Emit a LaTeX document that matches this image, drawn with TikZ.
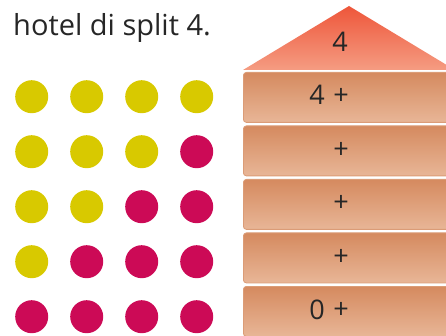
\documentclass[tikz,border=0pt]{standalone}
\usepackage{fontspec}
\setmainfont{Open Sans}
\definecolor{beadyellow}{HTML}{D8C900}
\definecolor{beadred}{HTML}{CC0A56}
\definecolor{rooftop}{HTML}{EE563A}
\definecolor{roofbottom}{HTML}{F59C82}
\definecolor{floortop}{HTML}{D58A5F}
\definecolor{floorbottom}{HTML}{E8B697}
\tikzset{
  bead/.style={circle, minimum size=33pt, inner sep=0pt},
  floorbox/.style={rounded corners=3pt, top color=floortop, bottom color=floorbottom,
    draw=floortop!85!white, line width=0.8pt, minimum width=230pt, minimum height=50pt,
    anchor=north west, inner sep=0pt},
  lbl/.style={font=\fontsize{27}{30}\selectfont, text=black!85, inner sep=0pt}
}
\begin{document}
\begin{tikzpicture}[x=1pt, y=-1pt]
    \useasboundingbox (0,0) rectangle (446,336);
    \clip (0,0) rectangle (446,336);
    % title
    \node[lbl, font=\fontsize{29}{32}\selectfont, anchor=base west] (title) at (13,36) {hotel di split 4.};
    % beads: red where col+row >= 4
    \foreach \r in {0,...,4} {
      \foreach \c in {0,...,3} {
        \pgfmathtruncatemacro{\isred}{(\c+\r)>=4}
        \ifnum\isred=1
          \node[bead, fill=beadred] (bead-\r-\c) at ({31.7+55*\c},{96.7+55*\r}) {};
        \else
          \node[bead, fill=beadyellow] (bead-\r-\c) at ({31.7+55*\c},{96.7+55*\r}) {};
        \fi
      }
    }
    % roof
    \shade[top color=rooftop, middle color=rooftop!85!roofbottom, bottom color=roofbottom]
      (243,70) -- (349,6) -- (455,70) -- cycle;
    \node[lbl, anchor=base] (roof) at (340,52) {4};
    % floors, \b = text baseline
    \foreach \i/\y/\b in {1/72/105, 2/125.5/158.5, 3/179/212, 4/232.5/265.5, 5/286/319} {
      \node[floorbox] (floor\i) at (243,\y) {};
      \node[lbl] (plus\i) at (341,\b-8.5) {+};
    }
    \node[lbl, anchor=base] (num1) at (317,105) {4};
    \node[lbl, anchor=base] (num5) at (317,319) {0};
\end{tikzpicture}
\end{document}
